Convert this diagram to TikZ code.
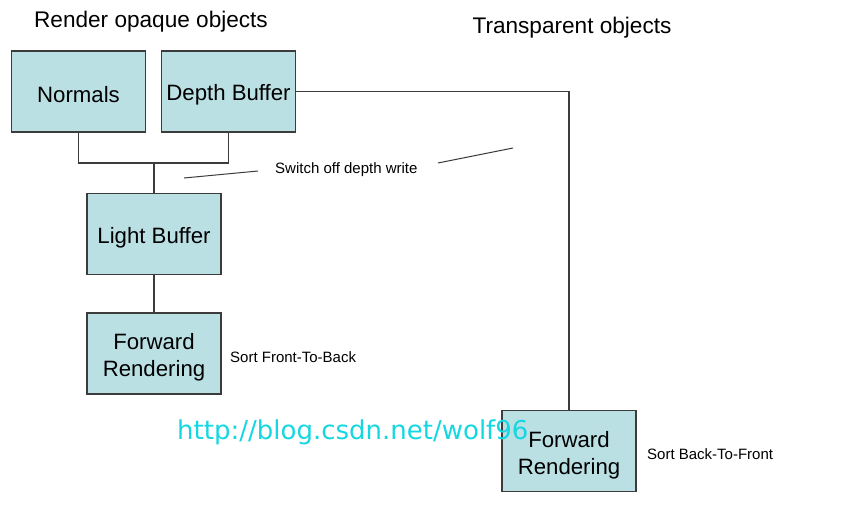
\documentclass[tikz,border=0pt]{standalone}
\usepackage{fontspec}
\setmainfont{Liberation Sans}
\newfontfamily\wmfont{DejaVu Sans}
\definecolor{boxfill}{RGB}{186,224,228}
\definecolor{boxline}{RGB}{60,60,60}
\definecolor{wmcol}{RGB}{20,215,225}
\begin{document}
\begin{tikzpicture}[x=1pt,y=-1pt,
  box/.style={draw=boxline,line width=1.3pt,fill=boxfill,minimum width=134pt,minimum height=81pt,inner sep=0pt},
  boxtext/.style={font=\fontsize{22.2}{27}\selectfont,inner sep=0pt,align=center},
  title/.style={font=\fontsize{22.6}{26}\selectfont,inner sep=0pt},
  note/.style={font=\fontsize{15}{17}\selectfont,inner sep=0pt,anchor=west},
  conn/.style={draw=boxline,line width=1.1pt}]
\useasboundingbox (0,0) rectangle (853,514);
\node[title] (t1) at (151,22) {Render opaque objects};
\node[title] (t2) at (572,28) {Transparent objects};
\node[box] (normals) at (78.5,91.5) {};
\node[box] (depth) at (228.5,91.5) {};
\node[box] (light) at (154,234) {};
\node[box] (fwd1) at (154,353.5) {};
\node[box] (fwd2) at (569,451) {};
\node[boxtext] (normalsl) at ([yshift=-3.5]normals.center) {Normals};
\node[boxtext] (depthl) at ([yshift=-3.5]depth.center) {Depth Buffer};
\node[boxtext] (lightl) at ([yshift=-3.5]light.center) {Light Buffer};
\node[boxtext] (fwd1l) at ([yshift=-4]fwd1.center) {Forward\\Rendering};
\coordinate (j) at (154,163);
\draw[conn] (normals.south) |- (j) -| (depth.south);
\draw[conn] (j) -- (light.north);
\draw[conn] (light.south) -- (fwd1.north);
\draw[conn] (depth.east) -| (fwd2.north);
\node[note] (sw) at (275,170) {Switch off depth write};
\coordinate (a1) at (184,178);
\coordinate (a2) at (258,171);
\coordinate (b1) at (438,163);
\coordinate (b2) at (513,148);
\draw[conn,line width=1pt] (a1) -- (a2);
\draw[conn,line width=1pt] (b1) -- (b2);
\node[note] (s1) at (230,357) {Sort Front-To-Back};
\node[note] (s2) at (647,454) {Sort Back-To-Front};
\node[inner sep=0pt,anchor=west,text=wmcol,font=\wmfont\fontsize{26}{30}\selectfont] (wm) at (177,432) {http://blog.csdn.net/wolf96};
\node[boxtext] (fwd2l) at ([yshift=-4]fwd2.center) {Forward\\Rendering};
\end{tikzpicture}
\end{document}
